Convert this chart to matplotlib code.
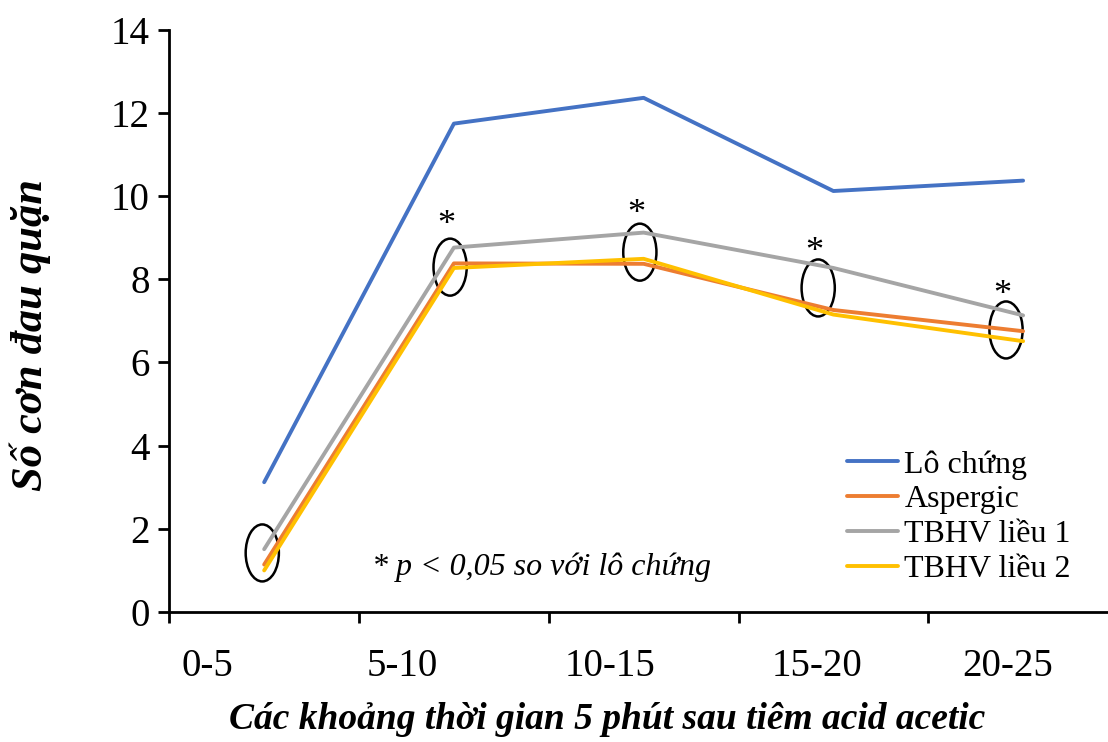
import matplotlib
matplotlib.use("Agg")
import matplotlib.pyplot as plt
from matplotlib.patches import Ellipse

plt.rcParams['font.family'] = ['Liberation Serif', 'DejaVu Serif']

# data
periods = ["0-5", "5-10", "10-15", "15-20", "20-25"]
lo_chung = [3.12, 11.74, 12.36, 10.12, 10.37]
aspergic = [1.14, 8.38, 8.37, 7.26, 6.75]
tbhv_1 = [1.51, 8.76, 9.12, 8.27, 7.13]
tbhv_2 = [1.00, 8.27, 8.49, 7.15, 6.51]

series = [
    ("Lô chứng", lo_chung, "#4472C4"),
    ("Aspergic", aspergic, "#ED7D31"),
    ("TBHV liều 1", tbhv_1, "#A5A5A5"),
    ("TBHV liều 2", tbhv_2, "#FFC000"),
]

# significance marks: ellipse centre (x, y) and star position
ellipse_xy = [(0.49, 1.42), (1.48, 8.29), (2.48, 8.65), (3.42, 7.79), (4.41, 6.78)]
star_xy = [(1.46, 9.3), (2.46, 9.55), (3.40, 8.65), (4.39, 7.62)]

label_pos = [0.2, 1.227, 2.322, 3.415, 4.417]

fig = plt.figure(figsize=(11.08, 7.42), dpi=100)
ax = fig.add_axes([0.1528, 0.1752, 0.8562, 0.7849])

x = [i + 0.5 for i in range(len(periods))]
for name, vals, col in series:
    ax.plot(x, vals, color=col, lw=2.8, label=name, solid_capstyle='round')

for ex, ey in ellipse_xy:
    ax.add_patch(Ellipse((ex, ey), 0.175, 1.37, fill=False, ec='black', lw=1.8))
for sx, sy in star_xy:
    ax.text(sx, sy, "*", fontsize=26, ha='center', va='center')

ax.text(1.96, 1.08, "* p < 0,05 so với lô chứng", fontsize=23, style='italic',
        ha='center', va='center')

ax.set_xlim(0, 5)
ax.set_ylim(0, 14)
ax.set_yticks(range(0, 15, 2))
ax.set_xticks(range(0, 6))
ax.set_xticklabels([])
ax.set_xticks(label_pos, minor=True)
ax.set_xticklabels(periods, minor=True)
ax.tick_params(axis='x', which='minor', length=0, pad=26, labelsize=28)
ax.tick_params(axis='x', which='major', length=8, width=2)
ax.tick_params(axis='y', length=8, width=2, labelsize=28, pad=6)

for s in ['top', 'right']:
    ax.spines[s].set_visible(False)
for s in ['left', 'bottom']:
    ax.spines[s].set_linewidth(2)

ax.set_xlabel("Các khoảng thời gian 5 phút sau tiêm acid acetic",
              fontsize=27, fontweight='bold', style='italic')
ax.xaxis.set_label_coords(0.461, -0.155)
ax.set_ylabel("Số cơn đau quặn", fontsize=32, fontweight='bold', style='italic')
ax.yaxis.set_label_coords(-0.125, 0.476)

ax.legend(loc='upper left', bbox_to_anchor=(847 / 1108, 1 - 450 / 742),
          bbox_transform=fig.transFigure, frameon=False, fontsize=23,
          handlelength=1.6, handletextpad=0.2, labelspacing=0.17,
          borderpad=0, borderaxespad=0)

fig.savefig("out.png", dpi=100)
